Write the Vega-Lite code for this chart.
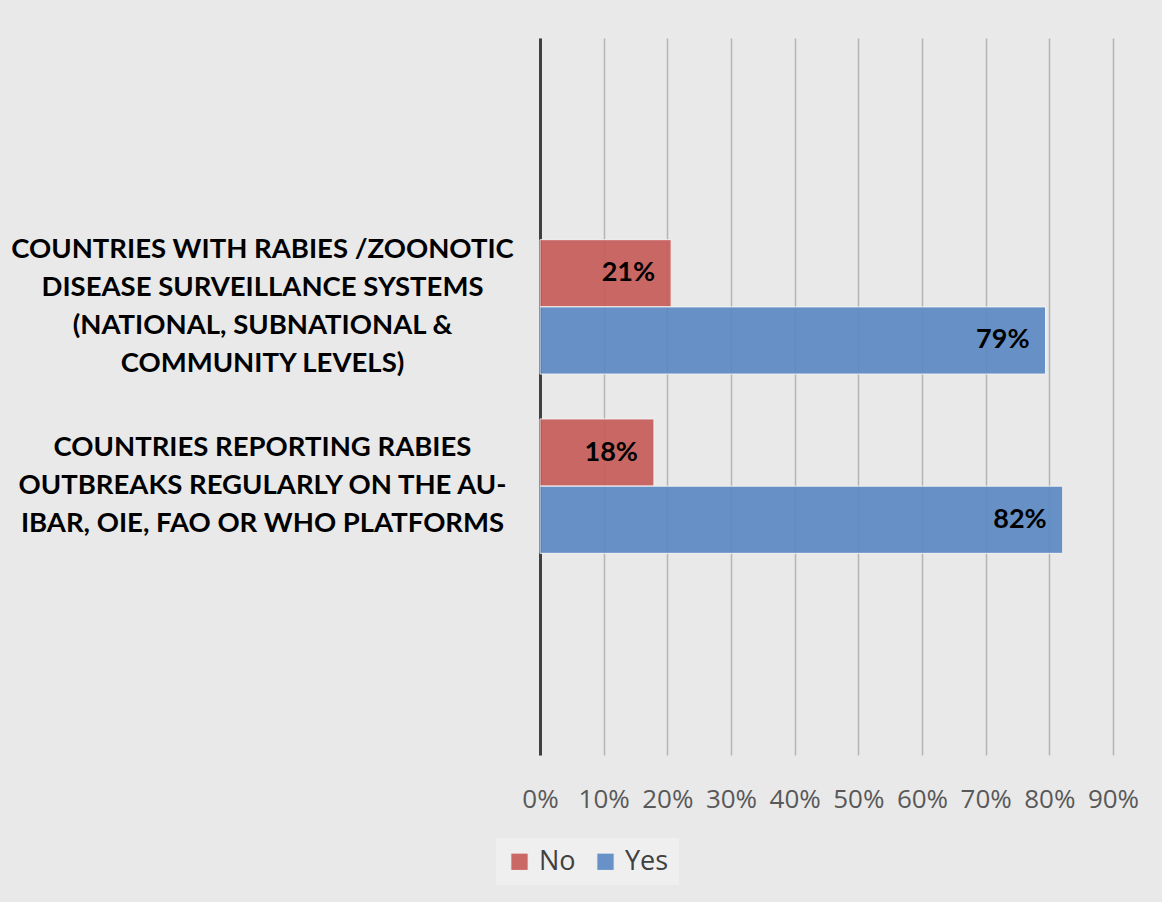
{
  "$schema": "https://vega.github.io/schema/vega-lite/v6.json",
  "width": 573,
  "height": 717,
  "autosize": {"type": "none"},
  "padding": {"left": 540, "top": 38, "right": 49, "bottom": 147},
  "background": "#e9e9e9",
  "config": {
    "view": {"stroke": null},
    "font": "Lato"
  },
  "data": {
    "values": [
      {"category": "COUNTRIES WITH RABIES /ZOONOTIC|DISEASE SURVEILLANCE SYSTEMS|(NATIONAL, SUBNATIONAL &|COMMUNITY LEVELS)", "series": "No", "value": 0.206},
      {"category": "COUNTRIES WITH RABIES /ZOONOTIC|DISEASE SURVEILLANCE SYSTEMS|(NATIONAL, SUBNATIONAL &|COMMUNITY LEVELS)", "series": "Yes", "value": 0.794},
      {"category": "COUNTRIES REPORTING RABIES|OUTBREAKS REGULARLY ON THE AU-|IBAR, OIE, FAO OR WHO PLATFORMS", "series": "No", "value": 0.179},
      {"category": "COUNTRIES REPORTING RABIES|OUTBREAKS REGULARLY ON THE AU-|IBAR, OIE, FAO OR WHO PLATFORMS", "series": "Yes", "value": 0.821}
    ]
  },
  "encoding": {
    "y": {
      "field": "category",
      "type": "nominal",
      "title": null,
      "scale": {
        "domain": ["_top", "COUNTRIES WITH RABIES /ZOONOTIC|DISEASE SURVEILLANCE SYSTEMS|(NATIONAL, SUBNATIONAL &|COMMUNITY LEVELS)", "COUNTRIES REPORTING RABIES|OUTBREAKS REGULARLY ON THE AU-|IBAR, OIE, FAO OR WHO PLATFORMS", "_bottom"],
        "paddingInner": 0.25,
        "paddingOuter": 0.125
      },
      "axis": {
        "labelExpr": "indexof(datum.value, '_') == 0 ? '' : split(datum.value, '|')",
        "labelAlign": "center",
        "labelBaseline": "middle",
        "labelPadding": 278,
        "labelOffset": {"condition": {"test": "indexof(datum.value, 'REPORTING') >= 0", "value": -38}, "value": -57},
        "labelFontSize": 27.5,
        "labelFontWeight": "bold",
        "labelColor": "#000000",
        "labelLineHeight": 38,
        "labelLimit": 0,
        "ticks": false,
        "domainColor": "#404040",
        "domainWidth": 3,
        "grid": false
      }
    },
    "yOffset": {"field": "series", "type": "nominal", "sort": ["No", "Yes"]},
    "x": {
      "field": "value",
      "type": "quantitative",
      "title": null,
      "scale": {"domain": [0, 0.9], "nice": false},
      "axis": {
        "format": ".0%",
        "values": [0, 0.1, 0.2, 0.3, 0.4, 0.5, 0.6, 0.7, 0.8, 0.9],
        "labelOverlap": false,
        "labelFlush": false,
        "domain": false,
        "ticks": false,
        "labelPadding": 31,
        "labelFontSize": 26,
        "labelColor": "#595959",
        "labelFont": "Open Sans",
        "grid": true,
        "gridColor": "#b5b5b5",
        "gridWidth": 1.5
      }
    }
  },
  "layer": [
    {
      "mark": {"type": "bar", "stroke": "#f4f4f4", "strokeWidth": 1, "opacity": 0.92},
      "encoding": {
        "color": {
          "field": "series",
          "type": "nominal",
          "scale": {"domain": ["No", "Yes"], "range": ["#c75d5a", "#5d8ac4"]},
          "legend": {
            "title": null,
            "orient": "none",
            "direction": "horizontal",
            "legendX": -44,
            "legendY": 800,
            "symbolType": "square",
            "symbolSize": 300,
            "symbolStrokeColor": "#f4f4f4",
            "symbolStrokeWidth": 1,
            "labelFontSize": 27,
            "labelFont": "Open Sans",
            "labelColor": "#404040",
            "columnPadding": 16,
            "labelOffset": 6,
            "fillColor": "#efefef",
            "padding": 10
          }
        }
      }
    },
    {
      "mark": {"type": "text", "align": "right", "baseline": "middle", "dx": -16, "fontSize": 27, "fontWeight": "bold", "color": "#000000"},
      "encoding": {
        "text": {"field": "value", "type": "quantitative", "format": ".0%"}
      }
    }
  ]
}
